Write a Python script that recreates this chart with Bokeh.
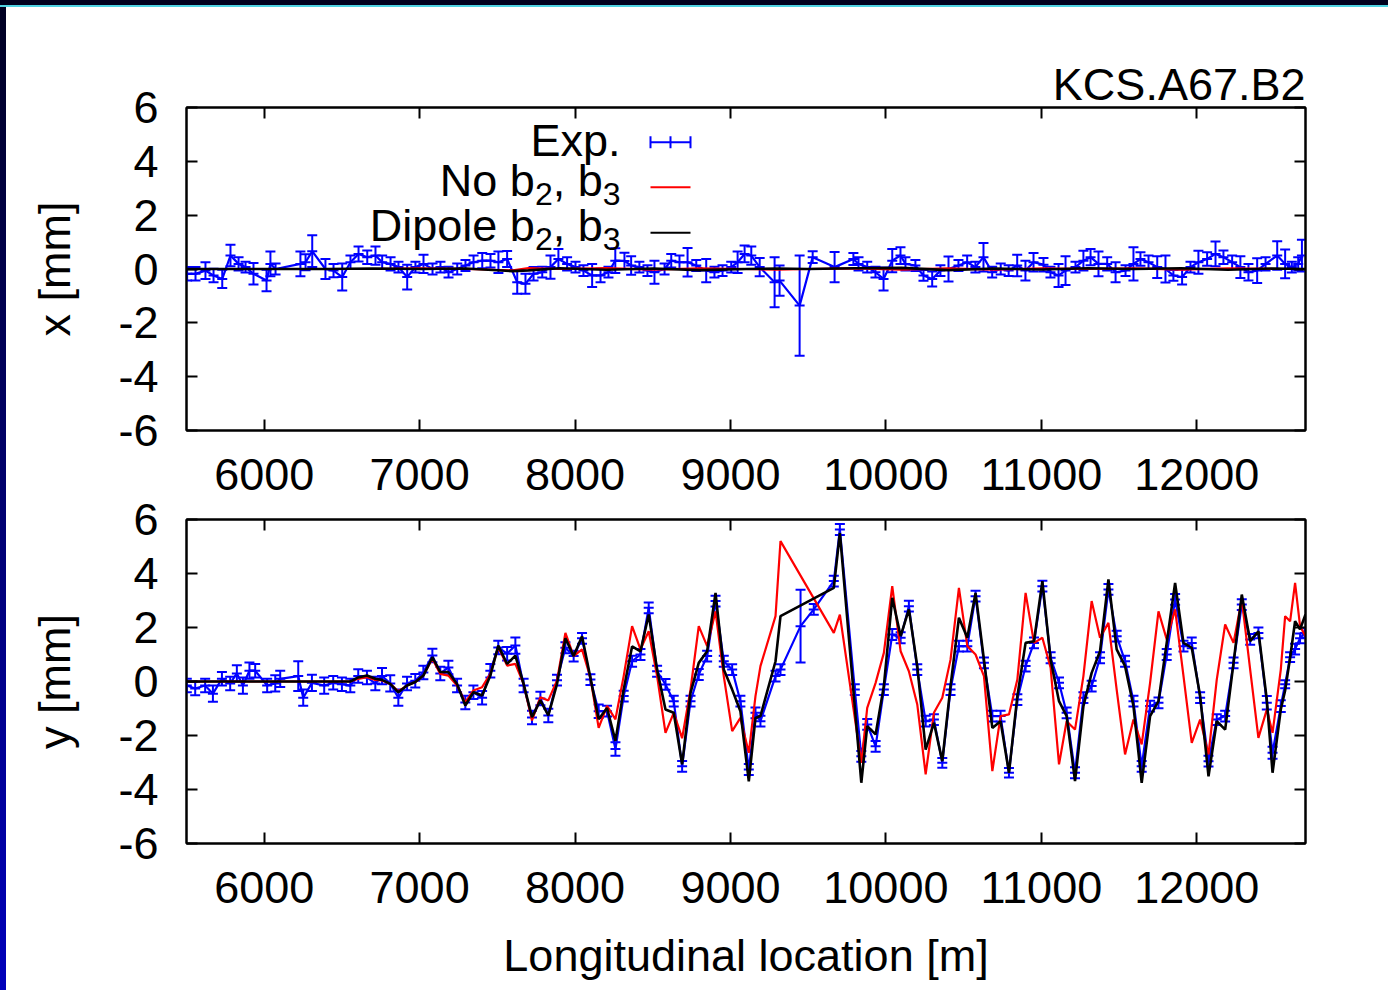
from bokeh.plotting import figure
from bokeh.models import Range1d, FixedTicker, LinearAxis, Div, Label, Title
from bokeh.layouts import column, row
from bokeh.embed import file_html
from bokeh.resources import INLINE

# ---------------- data: horizontal orbit (x) ----------------
s_x = [5504, 5558, 5622, 5674, 5730, 5783, 5835, 5880, 5931, 6015,
       6040, 6073, 6233, 6266, 6309, 6394, 6446, 6502, 6555, 6607,
       6663, 6716, 6759, 6813, 6864, 6920, 6973, 7025, 7083, 7134,
       7186, 7242, 7295, 7347, 7403, 7456, 7507, 7563, 7628, 7681,
       7733, 7789, 7842, 7893, 7949, 8003, 8054, 8110, 8164, 8215,
       8259, 8318, 8361, 8414, 8466, 8511, 8576, 8619, 8672, 8724,
       8780, 8844, 8897, 8949, 9005, 9046, 9091, 9134, 9188, 9284,
       9316, 9445, 9529, 9670, 9791, 9824, 9880, 9933, 9985, 10041,
       10094, 10126, 10190, 10242, 10298, 10351, 10403, 10467, 10523, 10576,
       10628, 10684, 10739, 10790, 10845, 10898, 10950, 11014, 11059, 11111,
       11156, 11220, 11271, 11317, 11368, 11424, 11478, 11542, 11593, 11638,
       11690, 11746, 11799, 11850, 11906, 11960, 12011, 12067, 12121, 12172,
       12228, 12281, 12333, 12389, 12443, 12518, 12569, 12612, 12653, 12677]
x_exp = [-0.18, -0.18, -0.06, -0.24, -0.37, 0.50, 0.19, 0.07, -0.18, -0.43,
         0.19, 0.00, 0.19, 0.25, 0.66, 0.00, -0.06, -0.30, 0.25, 0.56,
         0.44, 0.50, 0.25, 0.19, 0.07, -0.30, 0.07, 0.19, 0.00, 0.07,
         -0.12, 0.00, 0.13, 0.25, 0.31, 0.31, 0.25, 0.37, -0.49, -0.55,
         -0.18, -0.12, 0.07, 0.37, 0.19, 0.07, -0.06, -0.24, -0.24, -0.12,
         0.31, 0.30, 0.13, 0.07, -0.06, -0.12, 0.00, 0.31, 0.25, 0.25,
         0.13, -0.06, -0.12, -0.06, 0.07, 0.25, 0.56, 0.50, 0.07, -0.49,
         -0.43, -1.36, 0.44, 0.07, 0.37, 0.19, 0.07, -0.12, -0.37, 0.31,
         0.50, 0.19, 0.13, -0.24, -0.37, -0.06, 0.00, 0.13, 0.25, 0.07,
         0.44, -0.12, 0.00, -0.06, 0.13, -0.06, 0.25, 0.16, -0.12, -0.24,
         -0.06, 0.07, 0.31, 0.44, 0.19, 0.19, -0.12, -0.06, 0.19, 0.37,
         0.25, 0.07, 0.00, -0.24, -0.30, 0.07, 0.25, 0.37, 0.56, 0.44,
         0.25, 0.07, -0.12, -0.06, 0.19, 0.50, 0.19, 0.07, 0.19, 0.50]
x_err = [0.25, 0.25, 0.31, 0.25, 0.34, 0.40, 0.25, 0.20, 0.40, 0.40,
         0.46, 0.20, 0.46, 0.30, 0.59, 0.37, 0.25, 0.50, 0.25, 0.28,
         0.25, 0.34, 0.25, 0.25, 0.20, 0.46, 0.20, 0.34, 0.20, 0.20,
         0.20, 0.20, 0.20, 0.25, 0.28, 0.25, 0.40, 0.30, 0.43, 0.37,
         0.25, 0.20, 0.43, 0.37, 0.25, 0.20, 0.20, 0.43, 0.25, 0.20,
         0.46, 0.30, 0.34, 0.20, 0.20, 0.43, 0.20, 0.25, 0.25, 0.53,
         0.20, 0.43, 0.20, 0.20, 0.20, 0.40, 0.31, 0.34, 0.34, 0.93,
         0.56, 1.86, 0.22, 0.56, 0.22, 0.25, 0.20, 0.20, 0.43, 0.43,
         0.31, 0.25, 0.20, 0.20, 0.28, 0.20, 0.46, 0.20, 0.25, 0.20,
         0.53, 0.20, 0.20, 0.20, 0.40, 0.37, 0.34, 0.25, 0.20, 0.43,
         0.53, 0.20, 0.37, 0.30, 0.46, 0.25, 0.37, 0.20, 0.62, 0.25,
         0.25, 0.40, 0.50, 0.20, 0.28, 0.20, 0.43, 0.25, 0.46, 0.25,
         0.25, 0.40, 0.31, 0.46, 0.25, 0.53, 0.53, 0.20, 0.25, 0.59]
s_xm = [5500, 5800, 6100, 6400, 6700, 7000, 7300, 7600, 7700, 7900,
        8200, 8500, 8800, 9100, 9300, 9500, 9800, 10100, 10400, 10700,
        11000, 11300, 11600, 11900, 12200, 12500, 12700]
x_no = [0.0, 0.0, 0.0, 0.0, 0.0, 0.02, 0.0, -0.05, 0.03, 0.0,
        0.03, -0.02, 0.02, 0.0, -0.02, 0.0, 0.02, -0.02, 0.02, -0.02,
        0.02, 0.0, 0.02, -0.02, 0.02, 0.0, 0.0]
x_dip = [0.0, 0.0, 0.0, 0.0, 0.02, 0.0, 0.02, -0.08, -0.05, 0.03,
         -0.03, 0.02, -0.04, 0.0, 0.02, 0.0, 0.03, 0.04, -0.04, 0.02,
         -0.02, 0.03, 0.0, 0.03, -0.03, 0.02, 0.0]

# ---------------- data: vertical orbit (y) ----------------
s_y = [5502, 5556, 5620, 5670, 5728, 5781, 5824, 5863, 5905, 5942,
       6019, 6071, 6103, 6219, 6251, 6307, 6386, 6444, 6500, 6554,
       6605, 6661, 6715, 6758, 6811, 6863, 6919, 6972, 7024, 7082,
       7133, 7185, 7241, 7294, 7346, 7402, 7455, 7506, 7563, 7616,
       7669, 7723, 7777, 7828, 7884, 7938, 7991, 8045, 8099, 8152,
       8206, 8260, 8313, 8367, 8421, 8474, 8528, 8582, 8635, 8689,
       8743, 8796, 8850, 8904, 8957, 9011, 9064, 9118, 9161, 9193,
       9290, 9322, 9451, 9536, 9665, 9704, 9800, 9842, 9880, 9934,
       9987, 10041, 10095, 10148, 10202, 10256, 10309, 10363, 10416, 10470,
       10524, 10577, 10631, 10685, 10738, 10792, 10846, 10899, 10953, 11007,
       11060, 11114, 11163, 11217, 11271, 11324, 11378, 11432, 11485, 11539,
       11593, 11646, 11700, 11754, 11807, 11861, 11915, 11968, 12022, 12076,
       12129, 12183, 12237, 12290, 12344, 12397, 12451, 12488, 12541, 12569,
       12601, 12633, 12665, 12695]
y_exp = [-0.15, -0.26, -0.15, -0.45, 0.10, -0.07, 0.30, -0.15, 0.40, 0.40,
         -0.15, -0.07, 0.10, 0.20, -0.60, -0.05, -0.15, -0.05, -0.10, -0.15,
         0.20, 0.15, -0.07, 0.20, -0.07, -0.60, -0.07, 0.03, 0.33, 0.96,
         0.30, 0.52, -0.15, -0.78, -0.40, -0.60, 0.40, 1.26, 1.03, 1.33,
         -0.15, -1.33, -0.63, -1.26, 0.05, 1.25, 0.94, 1.60, 0.07, -1.10,
         -1.10, -2.50, -0.54, 0.75, 1.00, 2.73, 0.38, -0.11, -0.73, -3.14,
         -0.73, 0.26, 0.94, 2.98, 0.75, 0.44, -0.73, -3.26, -1.16, -1.47,
         0.20, 0.44, 2.05, 2.67, 3.72, 5.63, -0.30, -2.77, -1.59, -2.40,
         -0.30, 1.74, 1.62, 2.79, 0.44, -1.47, -1.41, -3.01, -0.30, 1.31,
         1.31, 3.16, 0.69, -1.28, -1.28, -3.38, -0.67, 0.57, 1.43, 3.53,
         0.88, -0.05, -1.16, -3.38, -0.60, -0.17, 0.88, 3.41, 1.68, 0.75,
         -0.73, -3.14, -0.91, -0.79, 1.00, 3.04, 1.31, 1.43, -0.60, -2.95,
         -1.41, -1.28, 0.69, 2.85, 1.56, 1.80, -0.79, -2.64, -0.91, -0.10,
         0.90, 1.20, 1.60, 1.80]
y_err = [0.25, 0.25, 0.25, 0.30, 0.25, 0.25, 0.30, 0.30, 0.30, 0.25,
         0.25, 0.30, 0.30, 0.55, 0.30, 0.30, 0.30, 0.25, 0.25, 0.25,
         0.25, 0.25, 0.25, 0.30, 0.30, 0.30, 0.25, 0.25, 0.25, 0.25,
         0.25, 0.25, 0.25, 0.25, 0.25, 0.25, 0.25, 0.25, 0.25, 0.30,
         0.25, 0.25, 0.25, 0.25, 0.20, 0.20, 0.20, 0.20, 0.20, 0.25,
         0.20, 0.25, 0.20, 0.20, 0.20, 0.20, 0.20, 0.20, 0.20, 0.20,
         0.20, 0.20, 0.20, 0.20, 0.20, 0.20, 0.20, 0.20, 0.20, 0.20,
         0.20, 0.20, 1.35, 0.20, 0.20, 0.20, 0.20, 0.20, 0.20, 0.20,
         0.20, 0.20, 0.20, 0.20, 0.20, 0.20, 0.20, 0.18, 0.20, 0.20,
         0.20, 0.20, 0.20, 0.20, 0.20, 0.18, 0.20, 0.20, 0.20, 0.20,
         0.20, 0.20, 0.20, 0.20, 0.20, 0.20, 0.20, 0.20, 0.20, 0.20,
         0.20, 0.20, 0.20, 0.20, 0.20, 0.20, 0.20, 0.20, 0.20, 0.20,
         0.20, 0.20, 0.20, 0.20, 0.20, 0.20, 0.25, 0.22, 0.22, 0.15,
         0.18, 0.20, 0.18, 0.18]
s_ym = [5502, 5556, 5620, 5670, 5728, 5781, 5824, 5863, 5905, 5942,
        6019, 6071, 6103, 6219, 6251, 6307, 6386, 6444, 6500, 6554,
        6605, 6661, 6715, 6758, 6811, 6863, 6919, 6972, 7024, 7082,
        7133, 7185, 7241, 7294, 7346, 7402, 7455, 7506, 7563, 7616,
        7669, 7723, 7777, 7828, 7884, 7938, 7991, 8045, 8099, 8152,
        8206, 8260, 8313, 8367, 8421, 8474, 8528, 8582, 8635, 8689,
        8743, 8796, 8850, 8904, 8957, 9011, 9064, 9118, 9161, 9193,
        9290, 9322, 9665, 9704, 9842, 9880, 9934, 9987, 10041, 10095,
        10148, 10202, 10256, 10309, 10363, 10416, 10470, 10524, 10577, 10631,
        10685, 10738, 10792, 10846, 10899, 10953, 11007, 11060, 11114, 11163,
        11217, 11271, 11324, 11378, 11432, 11485, 11539, 11593, 11646, 11700,
        11754, 11807, 11861, 11915, 11968, 12022, 12076, 12129, 12183, 12237,
        12290, 12344, 12397, 12451, 12488, 12541, 12569, 12601, 12633, 12665,
        12700]
y_dip = [0.0, 0.0, 0.0, 0.0, 0.0, 0.0, 0.0, 0.0, 0.0, 0.0,
         0.0, 0.0, 0.0, 0.0, 0.0, 0.0, 0.0, 0.0, 0.0, 0.0,
         0.15, 0.22, 0.10, 0.06, -0.09, -0.40, -0.15, -0.02, 0.22, 0.90,
         0.35, 0.35, -0.09, -0.89, -0.40, -0.52, 0.22, 1.33, 0.65, 0.96,
         -0.09, -1.32, -0.70, -1.26, -0.09, 1.60, 0.94, 1.68, 0.14, -1.40,
         -0.98, -2.20, -0.30, 1.30, 1.12, 2.48, 0.44, -1.04, -1.16, -3.07,
         -0.42, 0.69, 1.12, 3.28, 0.44, -0.30, -1.10, -3.70, -1.35, -1.28,
         0.75, 2.42, 3.47, 5.50, -3.75, -1.65, -1.96, -0.17, 3.10, 1.68,
         2.67, 0.57, -2.52, -1.53, -2.95, -0.17, 2.36, 1.62, 3.28, 0.81,
         -1.72, -1.47, -3.38, -0.54, 1.43, 1.49, 3.72, 0.81, -0.73, -1.28,
         -3.69, -0.91, 0.32, 1.12, 3.78, 1.19, 0.57, -0.91, -3.75, -1.28,
         -0.73, 1.43, 3.65, 1.43, 1.25, -0.54, -3.51, -1.47, -1.78, 0.69,
         3.22, 1.49, 1.86, -0.67, -3.38, -1.04, -0.33, 0.88, 2.23, 1.93,
         2.48]
y_no = [0.0, 0.0, 0.0, 0.0, 0.0, 0.0, 0.0, 0.0, 0.0, 0.0,
        0.0, 0.0, 0.0, 0.0, 0.0, 0.0, 0.0, 0.0, 0.0, 0.0,
        0.10, 0.16, 0.06, 0.04, -0.09, -0.36, -0.15, -0.02, 0.22, 0.84,
        0.28, 0.22, -0.15, -0.77, -0.33, -0.21, 0.28, 1.27, 0.59, 0.65,
        -0.09, -1.44, -0.58, -0.70, 0.04, 1.80, 0.94, 1.19, 0.14, -1.72,
        -0.90, -1.40, 0.20, 2.05, 1.19, 1.86, 0.20, -1.90, -1.16, -2.10,
        -0.30, 2.05, 1.31, 2.60, 0.20, -1.84, -1.35, -2.64, -0.54, 0.57,
        2.42, 5.20, 1.80, 2.48, -3.01, -0.98, -0.05, 1.06, 3.53, 1.12,
        0.38, -0.85, -3.44, -1.16, -0.60, 0.81, 3.47, 1.31, 1.00, 0.20,
        -3.32, -1.28, -1.22, 0.07, 3.28, 1.43, 1.62, 0.51, -3.07, -1.47,
        -1.78, 0.20, 2.98, 1.62, 2.17, -0.30, -2.70, -1.41, -2.33, -0.05,
        2.60, 1.56, 2.67, 0.20, -2.27, -1.41, -2.70, 0.07, 2.11, 1.43,
        3.04, 0.44, -2.09, -1.04, -1.90, 0.44, 2.42, 2.23, 3.65, 2.05,
        1.68]

x_tick_values = [6000, 7000, 8000, 9000, 10000, 11000, 12000]
y_tick_values = [-6, -4, -2, 0, 2, 4, 6]
legend_labels = ["Exp.", "No b", "Dipole b"]
panel_title = "KCS.A67.B2"

# ---------------- styling / layout ----------------
FONT = "Liberation Sans"
BIG = "45px"
SUB = "32px"
BLUE, RED, BLACK = "#0000ff", "#ff0000", "#000000"
X_RANGE = (5500, 12700)
Y_RANGE = (-6, 6)
FIG_W = 1382
BORDER_L, BORDER_R = 180, 83
FRAME_W = FIG_W - BORDER_L - BORDER_R


def make_panel(height, top, bottom, ylabel, xlabel=None, margin=None):
    p = figure(width=FIG_W, height=height, x_range=Range1d(*X_RANGE), y_range=Range1d(*Y_RANGE),
               output_backend="svg", toolbar_location=None,
               min_border_left=BORDER_L, min_border_right=BORDER_R,
               min_border_top=top, min_border_bottom=bottom, margin=margin)
    p.grid.visible = False
    p.outline_line_color = "black"
    p.outline_line_width = 2
    p.background_fill_color = "white"
    p.border_fill_color = None
    p.add_layout(LinearAxis(), "above")
    p.add_layout(LinearAxis(), "right")
    for ax in p.xaxis:
        ax.ticker = FixedTicker(ticks=x_tick_values)
        ax.major_label_overrides = {t: str(t) for t in x_tick_values}
    for ax in p.yaxis:
        ax.ticker = FixedTicker(ticks=y_tick_values)
        ax.major_label_overrides = {t: str(t) for t in y_tick_values}
    for ax in p.axis:
        ax.major_tick_in = 11
        ax.major_tick_out = 0
        ax.minor_tick_line_color = None
        ax.major_tick_line_width = 2
        ax.major_tick_line_color = "black"
        ax.axis_line_width = 2
        ax.axis_line_color = "black"
        ax.major_label_text_font = FONT
        ax.major_label_text_font_size = BIG
        ax.major_label_text_color = "black"
    for ax in (p.above[0], p.right[0]):
        ax.major_label_text_color = None
        ax.major_label_text_font_size = "1px"
        ax.major_label_standoff = 0
    bx, ly = p.below[0], p.left[0]
    bx.major_label_standoff = 28
    ly.major_label_standoff = 28
    ly.axis_label = ylabel
    ly.axis_label_text_font = FONT
    ly.axis_label_text_font_size = BIG
    ly.axis_label_text_font_style = "normal"
    ly.axis_label_text_color = "black"
    ly.axis_label_standoff = 35
    if xlabel:
        bx.axis_label = xlabel
        bx.axis_label_text_font = FONT
        bx.axis_label_text_font_size = BIG
        bx.axis_label_text_font_style = "normal"
        bx.axis_label_text_color = "black"
        bx.axis_label_standoff = 24
    return p


def draw_exp(p, s, v, e):
    lo = [a - b for a, b in zip(v, e)]
    hi = [a + b for a, b in zip(v, e)]
    p.line(s, v, line_color=BLUE, line_width=2.2)
    p.segment(x0=s, y0=lo, x1=s, y1=hi, line_color=BLUE, line_width=2)
    for arr in (lo, hi, v):
        p.scatter(s, arr, marker="dash", size=10, line_color=BLUE, line_width=2)


# top panel: page y 7..517, frame 107..430
p1 = make_panel(510, 100, 87, "x [mm]")
draw_exp(p1, s_x, x_exp, x_err)
p1.line(s_xm, x_no, line_color=RED, line_width=2.2)
p1.line(s_xm, x_dip, line_color=BLACK, line_width=2.6)
p1.title = Title(text=panel_title, align="right", text_font=FONT, text_font_size=BIG,
                 text_font_style="normal", text_color="black", standoff=-4)

# bottom panel: overlaps upward by 27 px (transparent border), frame 519..843
p2 = make_panel(500, 29, 147, "y [mm]", "Longitudinal location [m]", margin=(-27, 0, 0, 0))
draw_exp(p2, s_y, y_exp, y_err)
p2.line(s_ym, y_no, line_color=RED, line_width=2.2)
p2.line(s_ym, y_dip, line_color=BLACK, line_width=2.6)

# pixel -> data helpers for the top panel (page pixels)
F_LEFT, F_TOP, F_H = 186, 107, 323
TEXT_SHIFT = 17


def X1(px):
    return X_RANGE[0] + (px - F_LEFT) * (X_RANGE[1] - X_RANGE[0]) / FRAME_W


def Y1(py):
    return Y_RANGE[1] - (py - F_TOP) * (Y_RANGE[1] - Y_RANGE[0]) / F_H


def txt(p, px, py, t, size):
    p.add_layout(Label(x=X1(px), y=Y1(py - TEXT_SHIFT), text=t, text_align="right",
                       text_baseline="alphabetic", text_font=FONT, text_font_size=size,
                       text_color="black"))


# legend
R = 620
txt(p1, R, 156.7, legend_labels[0], BIG)
for name, base in ((legend_labels[1], 196.7), (legend_labels[2], 241.7)):
    txt(p1, R, base + 13.3, "3", SUB)
    txt(p1, R - 17.8, base, ", b", BIG)
    txt(p1, R - 17.8 - 50.0, base + 13.3, "2", SUB)
    txt(p1, R - 17.8 - 50.0 - 17.8, base, name, BIG)

ly_exp, ly_no, ly_dip = Y1(141.7), Y1(186.7), Y1(232.3)
p1.segment(x0=[X1(650)], y0=[ly_exp], x1=[X1(690)], y1=[ly_exp], line_color=BLUE, line_width=2)
p1.scatter([X1(650), X1(670), X1(690)], [ly_exp] * 3, marker="dash", angle=1.5708, size=12,
           line_color=BLUE, line_width=2)
p1.segment(x0=[X1(650)], y0=[ly_no], x1=[X1(690)], y1=[ly_no], line_color=RED, line_width=2)
p1.segment(x0=[X1(650)], y0=[ly_dip], x1=[X1(690)], y1=[ly_dip], line_color=BLACK, line_width=2)

# slide decoration
top_bar = Div(text="", width=1388, height=7, margin=(0, 0, 0, 0),
              styles={"background": "linear-gradient(#00001e 0px, #00001e 5px, #4fd2e2 5px, #4fd2e2 7px)"})
left_bar = Div(text="", width=6, height=983, margin=(0, 0, 0, 0),
               styles={"background": "linear-gradient(#000022, #0000bb)"})

layout = column(top_bar, row(left_bar, column(p1, p2, spacing=0), spacing=0), spacing=0)

open("out.html", "w").write(file_html(layout, INLINE))
